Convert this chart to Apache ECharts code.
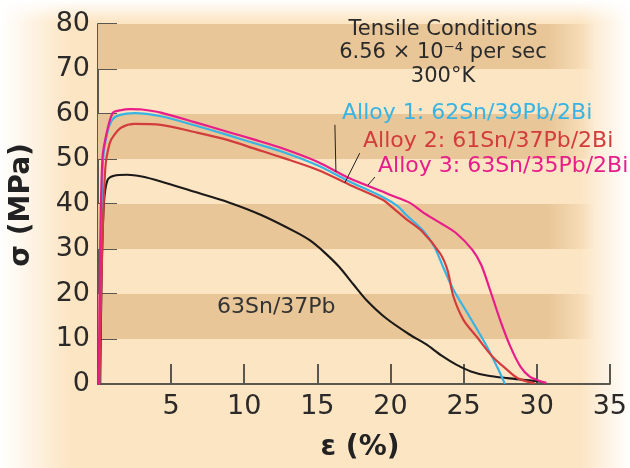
<!DOCTYPE html>
<html>
<head>
<meta charset="utf-8">
<script src="https://cdn.jsdelivr.net/npm/echarts@6/dist/echarts.min.js"></script>
<style>
  html, body { margin: 0; padding: 0; }
  #chart {
    width: 630px; height: 468px;
    background:
      linear-gradient(to right, #ffffff 0px, rgba(252,229,195,0) 70px),
      linear-gradient(to left, #ffffff 0px, rgba(252,229,195,0) 50px),
      linear-gradient(to bottom, #ffffff 0px, rgba(252,229,195,0) 22px),
      #fce5c3;
  }
</style>
</head>
<body>
<div id="chart"></div>
<script>
// Stress–strain curves of eutectic and Bi-bearing Sn/Pb solders
const xTicks = [0, 5, 10, 15, 20, 25, 30, 35];
const yTicks = [0, 10, 20, 30, 40, 50, 60, 70, 80];

// 63Sn/37Pb
const snpbStrain = [0.15, 0.25, 0.4, 0.65, 1.1, 2.0, 3.0, 4.3, 6.6, 8.9, 11.2, 13.5, 14.5, 15.5, 16.5, 17.5, 18.4, 19.7, 21.3, 22.4, 23.5, 24.5, 25.5, 26.6, 28.0, 29.5, 30.3];
const snpbStress = [0, 25, 40, 45.3, 46.3, 46.5, 46.1, 45.0, 42.7, 40.4, 37.5, 33.8, 31.9, 29.2, 26.0, 22.0, 18.5, 14.6, 11.0, 8.9, 6.3, 4.3, 2.8, 1.9, 1.3, 0.8, 0.5];

// Alloy 1: 62Sn/39Pb/2Bi
const alloy1Strain = [0.1, 0.2, 0.35, 0.65, 1.0, 1.5, 2.5, 4.3, 6.6, 8.9, 10.7, 12.6, 15.0, 17.2, 19.5, 20.5, 21.1, 22.2, 23.0, 23.6, 24.3, 25.4, 26.6, 27.5, 27.8];
const alloy1Stress = [0, 30, 50, 56, 58.8, 59.8, 60.2, 59.5, 57.5, 55.3, 53.5, 51.6, 48.6, 45.0, 41.5, 39.5, 37.5, 34.2, 30.5, 26.0, 21.0, 15.0, 8.3, 2.4, 0.2];

// Alloy 2: 61Sn/37Pb/2Bi
const alloy2Strain = [0.1, 0.25, 0.5, 0.8, 1.1, 1.6, 2.5, 4.3, 6.6, 8.9, 10.7, 12.6, 15.0, 17.2, 19.5, 20.0, 21.1, 22.2, 23.4, 23.9, 24.3, 25.0, 25.9, 27.0, 28.0, 28.7, 29.8];
const alloy2Stress = [0, 25, 48, 53.5, 55.3, 57, 57.8, 57.6, 56.0, 54.2, 52.3, 50.3, 47.6, 44.3, 40.9, 39.6, 36.6, 33.8, 29.0, 25.3, 19.5, 14.2, 10.5, 6.0, 3.1, 1.3, 0.2];

// Alloy 3: 63Sn/35Pb/2Bi
const alloy3Strain = [0.05, 0.15, 0.3, 0.56, 1.0, 1.5, 2.2, 3.0, 4.3, 6.6, 8.9, 10.7, 12.6, 15.0, 17.2, 19.5, 20.0, 21.3, 22.2, 23.4, 24.5, 25.6, 26.2, 26.8, 27.5, 28.2, 28.9, 29.5, 30.1, 30.6];
const alloy3Stress = [0, 30, 50, 55.3, 60.2, 60.8, 61.1, 61.0, 60.3, 58.2, 56.0, 54.3, 52.4, 49.4, 45.7, 42.7, 42.0, 40.3, 38.2, 35.8, 33.5, 29.8, 26.5, 21.0, 14.2, 8.3, 3.8, 1.7, 0.8, 0.3];

// darker horizontal bands (stress ranges)
const bandRanges = [[10, 20], [30, 40], [50, 60], [70, 80]];

// leader lines from the alloy labels to their curves, [x1, y1, x2, y2]
const leaders = [
  [16.2, 57.6, 16.27, 47.1],
  [17.9, 51.3, 16.88, 44.7],
  [18.94, 46.0, 18.46, 44.2]
];

const FONT = '"DejaVu Sans", Verdana, sans-serif';
const AXIS_COLOR = '#5a5650';
const pair = (xs, ys) => xs.map((x, i) => [x, ys[i]]);

const chart = echarts.init(document.getElementById('chart'), null, { renderer: 'canvas' });

const curve = (name, xs, ys, color, width) => ({
  name, type: 'line', data: pair(xs, ys),
  showSymbol: false, smooth: 0.3,
  lineStyle: { color, width, join: 'round', cap: 'round' }, z: 3
});

chart.setOption({
  backgroundColor: 'transparent',
  animation: false,
  grid: { left: 98, right: 20, top: 24, bottom: 84, containLabel: false },
  xAxis: {
    type: 'value', min: xTicks[0], max: xTicks[xTicks.length - 1], interval: 5,
    axisLine: { show: true, lineStyle: { color: AXIS_COLOR, width: 2 } },
    axisTick: { show: true, inside: true, length: 20, lineStyle: { color: AXIS_COLOR, width: 2 } },
    axisLabel: {
      color: '#2c2a28', fontFamily: FONT, fontSize: 27, margin: 9,
      formatter: v => (v === 0 ? '' : String(v))
    },
    splitLine: { show: false }
  },
  yAxis: {
    type: 'value', min: yTicks[0], max: yTicks[yTicks.length - 1], interval: 10,
    axisLine: { show: true, lineStyle: { color: AXIS_COLOR, width: 2 } },
    axisTick: { show: true, inside: true, length: 19, lineStyle: { color: AXIS_COLOR, width: 2 } },
    axisLabel: { color: '#2c2a28', fontFamily: FONT, fontSize: 27, margin: 8 },
    splitLine: { show: false }
  },
  series: [
    {
      name: 'bands', type: 'line', data: [], z: -1, silent: true,
      markArea: {
        silent: true,
        itemStyle: {
          color: new echarts.graphic.LinearGradient(0, 0, 1, 0, [
            { offset: 0, color: 'rgba(232,198,152,1)' },
            { offset: 0.88, color: 'rgba(232,198,152,1)' },
            { offset: 0.97, color: 'rgba(232,198,152,0)' },
            { offset: 1, color: 'rgba(232,198,152,0)' }
          ])
        },
        data: bandRanges.map(([a, b]) => [{ xAxis: 0, yAxis: a }, { xAxis: 35, yAxis: b }])
      }
    },
    curve('63Sn/37Pb', snpbStrain, snpbStress, '#1c1a18', 2.1),
    curve('Alloy 1: 62Sn/39Pb/2Bi', alloy1Strain, alloy1Stress, '#38b4e4', 2.2),
    curve('Alloy 2: 61Sn/37Pb/2Bi', alloy2Strain, alloy2Stress, '#d33c3c', 2.2),
    curve('Alloy 3: 63Sn/35Pb/2Bi', alloy3Strain, alloy3Stress, '#e81d8a', 2.2),
    {
      name: 'leaders', type: 'line', data: [], silent: true, z: 4,
      markLine: {
        silent: true, symbol: ['none', 'none'],
        label: { show: false },
        lineStyle: { color: '#222', width: 1, type: 'solid' },
        data: leaders.map(([x1, y1, x2, y2]) => [{ coord: [x1, y1] }, { coord: [x2, y2] }])
      }
    }
  ],
  graphic: [
    { type: 'text', x: 443, y: 30, style: { text: 'Tensile Conditions', fontFamily: FONT, fontSize: 21, fill: '#2a2a2a', textAlign: 'center', textVerticalAlign: 'middle' }, z: 10 },
    { type: 'text', x: 443, y: 53, style: { text: '6.56 × 10⁻⁴ per sec', fontFamily: FONT, fontSize: 21, fill: '#2a2a2a', textAlign: 'center', textVerticalAlign: 'middle' }, z: 10 },
    { type: 'text', x: 443, y: 77, style: { text: '300°K', fontFamily: FONT, fontSize: 21, fill: '#2a2a2a', textAlign: 'center', textVerticalAlign: 'middle' }, z: 10 },
    { type: 'text', x: 342, y: 113, style: { text: 'Alloy 1: 62Sn/39Pb/2Bi', fontFamily: FONT, fontSize: 22, fill: '#38b4e4', textAlign: 'left', textVerticalAlign: 'middle' }, z: 10 },
    { type: 'text', x: 363, y: 141, style: { text: 'Alloy 2: 61Sn/37Pb/2Bi', fontFamily: FONT, fontSize: 22, fill: '#d33c3c', textAlign: 'left', textVerticalAlign: 'middle' }, z: 10 },
    { type: 'text', x: 378, y: 166, style: { text: 'Alloy 3: 63Sn/35Pb/2Bi', fontFamily: FONT, fontSize: 22, fill: '#e81d8a', textAlign: 'left', textVerticalAlign: 'middle' }, z: 10 },
    { type: 'text', x: 217, y: 307, style: { text: '63Sn/37Pb', fontFamily: FONT, fontSize: 22, fill: '#333', textAlign: 'left', textVerticalAlign: 'middle' }, z: 10 },
    { type: 'text', x: 22, y: 205, rotation: Math.PI / 2, style: { text: 'σ (MPa)', fontFamily: FONT, fontWeight: 'bold', fontSize: 28, fill: '#222', textAlign: 'center', textVerticalAlign: 'middle' }, z: 10 },
    { type: 'text', x: 360, y: 448, style: { text: 'ε (%)', fontFamily: FONT, fontWeight: 'bold', fontSize: 28, fill: '#222', textAlign: 'center', textVerticalAlign: 'middle' }, z: 10 }
  ]
});
</script>
</body>
</html>
